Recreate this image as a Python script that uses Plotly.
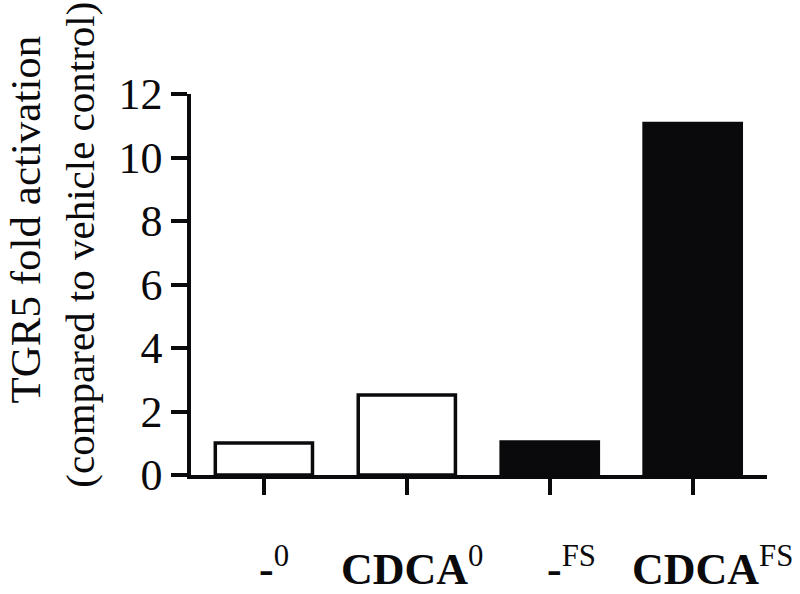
import plotly.graph_objects as go

# data
groups = ["-0", "CDCA0", "-FS", "CDCA_FS"]
labels = ["<b>-</b><sup>0</sup>", "<b>CDCA</b><sup>0</sup>",
          "<b>-</b><sup>FS</sup>", "<b>CDCA</b><sup>FS</sup>"]
fold_activation = [1.01, 2.52, 1.04, 11.07]
fills = ["white", "white", "#0a0a0c", "#0a0a0c"]

y_ticks = [0, 2, 4, 6, 8, 10, 12]

FONT = "Liberation Serif"
INK = "#0a0a0c"

fig = go.Figure()

fig.add_trace(go.Bar(
    x=groups,
    y=fold_activation,
    width=0.68,
    marker=dict(color=fills, line=dict(color=INK, width=3.5)),
    showlegend=False,
))

# category labels sit a little right of their tick marks in the original
label_shift = [10, 6, 22, 20]
for g, lab, dx in zip(groups, labels, label_shift):
    fig.add_annotation(
        x=g, xref="x", y=-0.162, yref="paper",
        text=lab, showarrow=False, xshift=dx,
        xanchor="center", yanchor="top",
        font=dict(family=FONT, size=44, color=INK),
    )

# y title, two lines rotated
fig.add_annotation(
    x=-0.288, xref="paper", y=0.671, yref="paper",
    text="TGR5 fold activation", textangle=-90, showarrow=False,
    xanchor="center", yanchor="middle",
    font=dict(family=FONT, size=43, color=INK),
)
fig.add_annotation(
    x=-0.193, xref="paper", y=0.604, yref="paper",
    text="(compared to vehicle control)", textangle=-90, showarrow=False,
    xanchor="center", yanchor="middle",
    font=dict(family=FONT, size=41, color=INK),
)

fig.update_layout(
    width=800, height=594,
    margin=dict(l=191, r=33, t=94, b=119),
    plot_bgcolor="white", paper_bgcolor="white",
    font=dict(family=FONT, color=INK),
    xaxis=dict(
        type="category",
        range=[-0.51, 3.52],
        showline=True, linecolor=INK, linewidth=3.5,
        ticks="outside", ticklen=16, tickwidth=3.5, tickcolor=INK,
        showticklabels=False, showgrid=False, zeroline=False,
    ),
    yaxis=dict(
        range=[0, 12],
        tickvals=y_ticks,
        showline=True, linecolor=INK, linewidth=3.5,
        ticks="outside", ticklen=16, tickwidth=3.5, tickcolor=INK,
        tickfont=dict(family=FONT, size=44, color=INK),
        showgrid=False, zeroline=False,
    ),
)

fig.write_html("out.html", config={"displayModeBar": False},
               post_script="document.body.style.margin='0';")
